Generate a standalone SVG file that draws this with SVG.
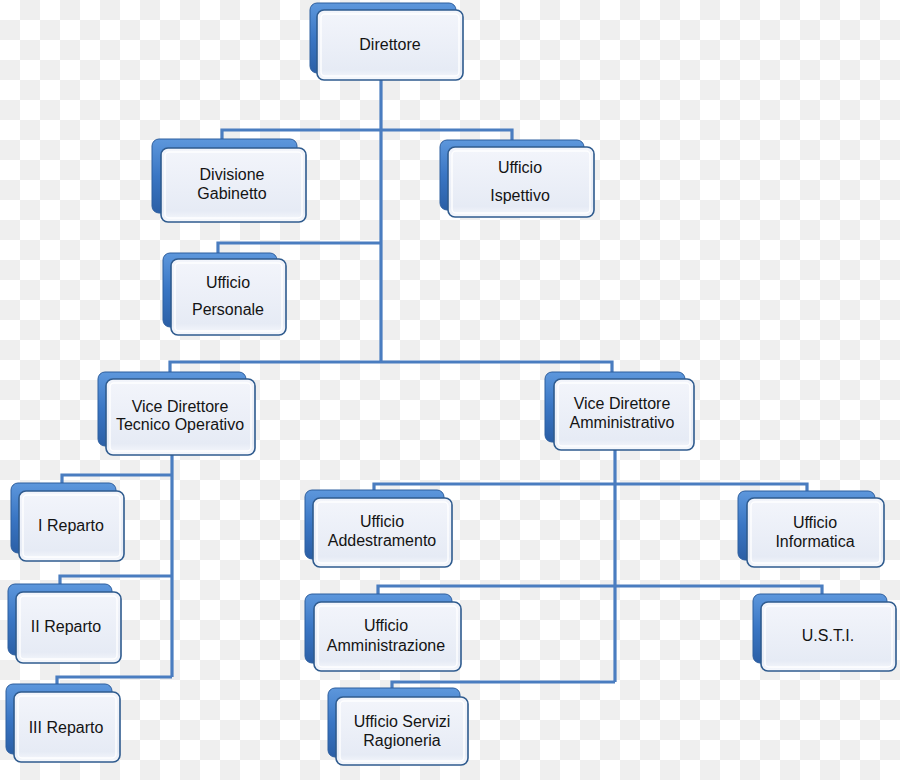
<svg xmlns="http://www.w3.org/2000/svg" width="900" height="780" viewBox="0 0 900 780">
<defs>
<pattern id="chk" width="40" height="40" patternUnits="userSpaceOnUse">
<rect width="40" height="40" fill="#ffffff"/>
<rect x="20" y="0" width="20" height="20" fill="#efefef"/>
<rect x="0" y="20" width="20" height="20" fill="#efefef"/>
</pattern>
<linearGradient id="backG" x1="0" y1="0" x2="0" y2="1">
<stop offset="0" stop-color="#5d97dc"/>
<stop offset="0.5" stop-color="#3a76c4"/>
<stop offset="1" stop-color="#2b5fa6"/>
</linearGradient>
<linearGradient id="frontG" x1="0" y1="0" x2="0" y2="1">
<stop offset="0" stop-color="#f3f5fb"/>
<stop offset="0.85" stop-color="#e6ebf5"/>
<stop offset="1" stop-color="#f7f9fd"/>
</linearGradient>
</defs>
<style>
.bk{fill:url(#backG);stroke:#2d5e9e;stroke-width:1}
.fr{fill:url(#frontG);stroke:#2f5b8e;stroke-width:1.6}
.in{fill:none;stroke:#ffffff;stroke-width:1.5;opacity:0.9}
.t{font-family:"Liberation Sans",Arial,sans-serif;font-size:16px;fill:#141414;text-anchor:middle}
.c{fill:none;stroke:#4a7dc0;stroke-width:3.2;stroke-linejoin:miter}
</style>
<rect width="900" height="780" fill="url(#chk)"/>
<g id="connectors">
<path class="c" d="M381,80 V362"/>
<path class="c" d="M222,140 V130 H512 V141"/>
<path class="c" d="M218,254 V243 H381"/>
<path class="c" d="M170,373 V362 H612 V373"/>
<path class="c" d="M172,455 V677"/>
<path class="c" d="M62,484 V475 H172"/>
<path class="c" d="M60,584 V576 H172"/>
<path class="c" d="M57,685 V677 H172"/>
<path class="c" d="M615,450 V682"/>
<path class="c" d="M374,491 V484 H807 V492"/>
<path class="c" d="M378,595 V586 H822 V595"/>
<path class="c" d="M392,689 V682 H615"/>
</g>
<g id="direttore">
<rect class="bk" x="310" y="3" width="146" height="70" rx="7"/>
<rect class="fr" x="317" y="10" width="146" height="70" rx="7"/>
<rect class="in" x="321" y="14" width="138" height="62" rx="4"/>
<text class="t" x="390" y="50">Direttore</text>
</g>
<g id="divisione-gabinetto">
<rect class="bk" x="152" y="139" width="145" height="74" rx="7"/>
<rect class="fr" x="161" y="148" width="145" height="74" rx="7"/>
<rect class="in" x="165" y="152" width="137" height="66" rx="4"/>
<text class="t" x="232" y="180">Divisione</text>
<text class="t" x="232" y="199">Gabinetto</text>
</g>
<g id="ufficio-ispettivo">
<rect class="bk" x="440" y="140" width="144" height="70" rx="7"/>
<rect class="fr" x="448" y="147" width="146" height="70" rx="7"/>
<rect class="in" x="452" y="151" width="138" height="62" rx="4"/>
<text class="t" x="520" y="173">Ufficio</text>
<text class="t" x="520" y="201">Ispettivo</text>
</g>
<g id="ufficio-personale">
<rect class="bk" x="163" y="253" width="114" height="74" rx="7"/>
<rect class="fr" x="171" y="259" width="115" height="76" rx="7"/>
<rect class="in" x="175" y="263" width="107" height="68" rx="4"/>
<text class="t" x="228" y="288">Ufficio</text>
<text class="t" x="228" y="315">Personale</text>
</g>
<g id="vice-direttore-tecnico">
<rect class="bk" x="98" y="372" width="148" height="74" rx="7"/>
<rect class="fr" x="106" y="379" width="149" height="76" rx="7"/>
<rect class="in" x="110" y="383" width="141" height="68" rx="4"/>
<text class="t" x="180" y="412">Vice Direttore</text>
<text class="t" x="180" y="430">Tecnico Operativo</text>
</g>
<g id="vice-direttore-amministrativo">
<rect class="bk" x="545" y="372" width="140" height="70" rx="7"/>
<rect class="fr" x="554" y="379" width="140" height="71" rx="7"/>
<rect class="in" x="558" y="383" width="132" height="63" rx="4"/>
<text class="t" x="622" y="409">Vice Direttore</text>
<text class="t" x="622" y="428">Amministrativo</text>
</g>
<g id="i-reparto">
<rect class="bk" x="11" y="483" width="105" height="70" rx="7"/>
<rect class="fr" x="19" y="491" width="105" height="70" rx="7"/>
<rect class="in" x="23" y="495" width="97" height="62" rx="4"/>
<text class="t" x="71" y="531">I Reparto</text>
</g>
<g id="ii-reparto">
<rect class="bk" x="8" y="584" width="104" height="71" rx="7"/>
<rect class="fr" x="16" y="592" width="105" height="71" rx="7"/>
<rect class="in" x="20" y="596" width="97" height="63" rx="4"/>
<text class="t" x="66" y="632">II Reparto</text>
</g>
<g id="iii-reparto">
<rect class="bk" x="6" y="684" width="106" height="70" rx="7"/>
<rect class="fr" x="14" y="692" width="106" height="70" rx="7"/>
<rect class="in" x="18" y="696" width="98" height="62" rx="4"/>
<text class="t" x="66" y="733">III Reparto</text>
</g>
<g id="ufficio-addestramento">
<rect class="bk" x="305" y="490" width="139" height="69" rx="7"/>
<rect class="fr" x="313" y="498" width="139" height="69" rx="7"/>
<rect class="in" x="317" y="502" width="131" height="61" rx="4"/>
<text class="t" x="382" y="527">Ufficio</text>
<text class="t" x="382" y="546">Addestramento</text>
</g>
<g id="ufficio-informatica">
<rect class="bk" x="738" y="491" width="137" height="69" rx="7"/>
<rect class="fr" x="747" y="498" width="137" height="69" rx="7"/>
<rect class="in" x="751" y="502" width="129" height="61" rx="4"/>
<text class="t" x="815" y="528">Ufficio</text>
<text class="t" x="815" y="547">Informatica</text>
</g>
<g id="ufficio-amministrazione">
<rect class="bk" x="305" y="594" width="147" height="69" rx="7"/>
<rect class="fr" x="314" y="602" width="147" height="69" rx="7"/>
<rect class="in" x="318" y="606" width="139" height="61" rx="4"/>
<text class="t" x="386" y="631">Ufficio</text>
<text class="t" x="386" y="651">Amministrazione</text>
</g>
<g id="usti">
<rect class="bk" x="753" y="594" width="134" height="69" rx="7"/>
<rect class="fr" x="761" y="602" width="135" height="69" rx="7"/>
<rect class="in" x="765" y="606" width="127" height="61" rx="4"/>
<text class="t" x="828" y="641">U.S.T.I.</text>
</g>
<g id="ufficio-servizi-ragioneria">
<rect class="bk" x="328" y="688" width="132" height="69" rx="7"/>
<rect class="fr" x="336" y="697" width="132" height="68" rx="7"/>
<rect class="in" x="340" y="701" width="124" height="60" rx="4"/>
<text class="t" x="402" y="727">Ufficio Servizi</text>
<text class="t" x="402" y="746">Ragioneria</text>
</g>
</svg>
